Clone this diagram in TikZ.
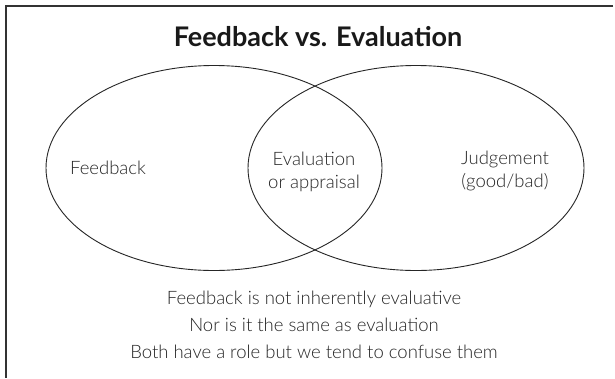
\documentclass[tikz,border=0pt]{standalone}
\usepackage{fontspec}
\setmainfont{Lato}
\newfontfamily\lightfont{Lato Light}
\usetikzlibrary{shapes.geometric}
\begin{document}
\begin{tikzpicture}[x=1pt,y=-1pt,
  setshape/.style={ellipse, draw=black!85, line width=0.9pt, minimum width=336pt, minimum height=205pt, inner sep=0pt},
  frameline/.style={draw=black!80, line width=2pt},
  label/.style={text=black!85, font=\lightfont\fontsize{18.5}{23}\selectfont, align=center, inner sep=0pt, anchor=base},
  heading/.style={text=black!90, font=\fontsize{27}{32}\selectfont\bfseries, inner sep=0pt, anchor=base},
  note/.style={text=black!85, font=\lightfont\fontsize{18.5}{22}\selectfont, inner sep=0pt, anchor=base}]
\useasboundingbox (0,0) rectangle (615,378);
\fill[white] (0,0) rectangle (615,378);
% open frame: top and left edges
\coordinate (frameR) at (613,5.5);
\coordinate (frameC) at (5.5,5.5);
\coordinate (frameB) at (5.5,378);
\draw[frameline] (frameR) -- (frameC) -- (frameB);
% title
\node[heading] (title) at (318,46.5) {Feedback vs. Evaluation};
% the two overlapping sets
\node[setshape] (left) at (214,168) {};
\node[setshape] (right) at (416,168) {};
% set labels
\node[label] (feedback) at (108,174) {Feedback};
\node[label] (evaluation) at (314,165) {Evaluation};
\node[label] (appraisal) at (314,188) {or appraisal};
\node[label] (judgement) at (505,164) {Judgement};
\node[label] (goodbad) at (505,187) {(good/bad)};
% notes below
\node[note] (n1) at (314,304) {Feedback is not inherently evaluative};
\node[note] (n2) at (314,331) {Nor is it the same as evaluation};
\node[note] (n3) at (314,358) {Both have a role but we tend to confuse them};
\end{tikzpicture}
\end{document}
